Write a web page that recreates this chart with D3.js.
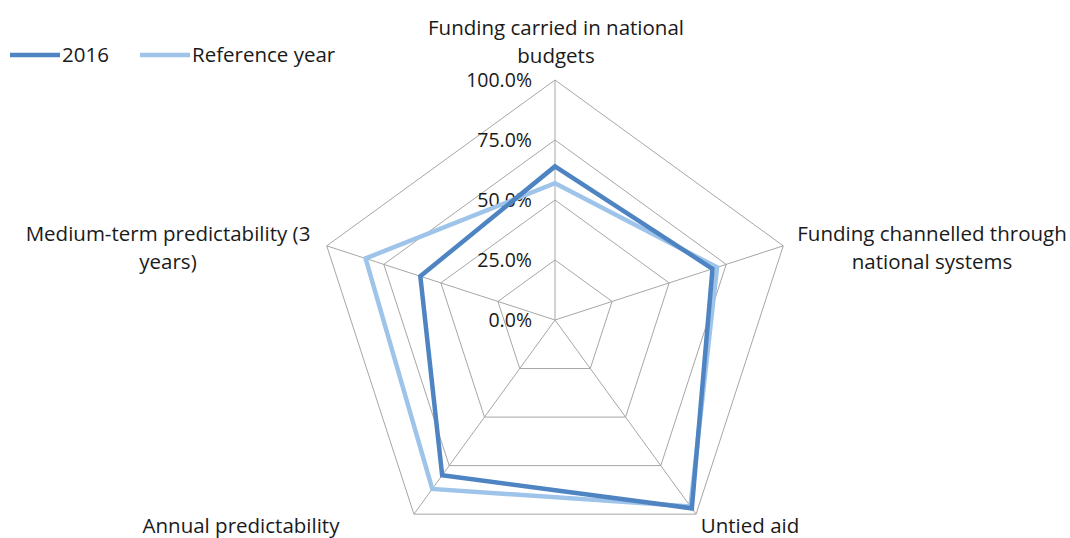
<!DOCTYPE html>
<html>
<head>
<meta charset="utf-8">
<script src="https://cdn.jsdelivr.net/npm/d3@7"></script>
<style>
  html, body { margin: 0; padding: 0; background: #fff; }
  svg text { font-family: "Open Sans", "Lato", sans-serif; fill: #1a1a1a; }
</style>
</head>
<body>
<svg id="chart" width="1070" height="538"></svg>
<script>
// Aid-effectiveness indicators, shares of funding
const axes = [
  ["Funding carried in national", "budgets"],
  ["Funding channelled through", "national systems"],
  ["Untied aid"],
  ["Annual predictability"],
  ["Medium-term predictability (3", "years)"]
];
const values2016 = [0.64, 0.69, 0.97, 0.80, 0.59];
const valuesReference = [0.57, 0.71, 0.96, 0.87, 0.83];
const tickValues = [0, 0.25, 0.5, 0.75, 1.0];
const seriesNames = ["2016", "Reference year"];
const seriesColors = ["#4f84c2", "#9fc4ea"];

const svg = d3.select("#chart");
const cx = 555, cy = 320, R = 240;
const n = axes.length;

const r = d3.scaleLinear().domain([0, 1]).range([0, R]);
const angle = d3.scalePoint().domain(d3.range(n)).range([0, 2 * Math.PI * (n - 1) / n]);

const g = svg.append("g").attr("transform", `translate(${cx},${cy})`);

const radial = d3.lineRadial()
  .angle((d, i) => angle(i))
  .radius(d => r(d))
  .curve(d3.curveLinearClosed);

// grid rings
g.selectAll("path.ring").data(tickValues.slice(1)).join("path")
  .attr("class", "ring")
  .attr("d", t => radial(d3.range(n).map(() => t)))
  .attr("fill", "none").attr("stroke", "#a6a6a6").attr("stroke-width", 1);

// spokes
g.selectAll("line.spoke").data(d3.range(n)).join("line")
  .attr("class", "spoke")
  .attr("x1", 0).attr("y1", 0)
  .attr("x2", i => r(1) * Math.sin(angle(i)))
  .attr("y2", i => -r(1) * Math.cos(angle(i)))
  .attr("stroke", "#a6a6a6").attr("stroke-width", 1);

// tick labels along the first axis
const fmt = d3.format(".1%");
g.selectAll("text.tick").data(tickValues).join("text")
  .attr("class", "tick")
  .attr("x", -23)
  .attr("y", t => -r(t))
  .attr("dy", "0.35em")
  .attr("text-anchor", "end")
  .style("font-size", "19.5px")
  .text(t => fmt(t));

// series
const series = [values2016, valuesReference];
g.selectAll("path.series").data(series.slice().reverse()).join("path")
  .attr("class", "series")
  .attr("d", d => radial(d))
  .attr("fill", "none")
  .attr("stroke", (d, i) => seriesColors[series.length - 1 - i])
  .attr("stroke-width", 4.5)
  .attr("stroke-linejoin", "miter");

// axis labels
const labelPos = [
  { x: 556, y: 35 },
  { x: 932, y: 241 },
  { x: 750, y: 533 },
  { x: 241, y: 533 },
  { x: 168, y: 241 }
];
axes.forEach((lines, i) => {
  const t = svg.append("text")
    .attr("x", labelPos[i].x).attr("y", labelPos[i].y)
    .attr("text-anchor", "middle")
    .style("font-size", "20.5px");
  lines.forEach((line, j) => {
    t.append("tspan").attr("x", labelPos[i].x).attr("dy", j === 0 ? 0 : 27.5).text(line);
  });
});

// legend
const legend = svg.append("g");
const legendX = [10, 140];
seriesNames.forEach((name, i) => {
  legend.append("line")
    .attr("x1", legendX[i]).attr("x2", legendX[i] + 50)
    .attr("y1", 55).attr("y2", 55)
    .attr("stroke", seriesColors[i]).attr("stroke-width", 4.5);
  legend.append("text")
    .attr("x", legendX[i] + 52).attr("y", 55).attr("dy", "0.35em")
    .style("font-size", "20.5px")
    .text(name);
});
</script>
</body>
</html>
